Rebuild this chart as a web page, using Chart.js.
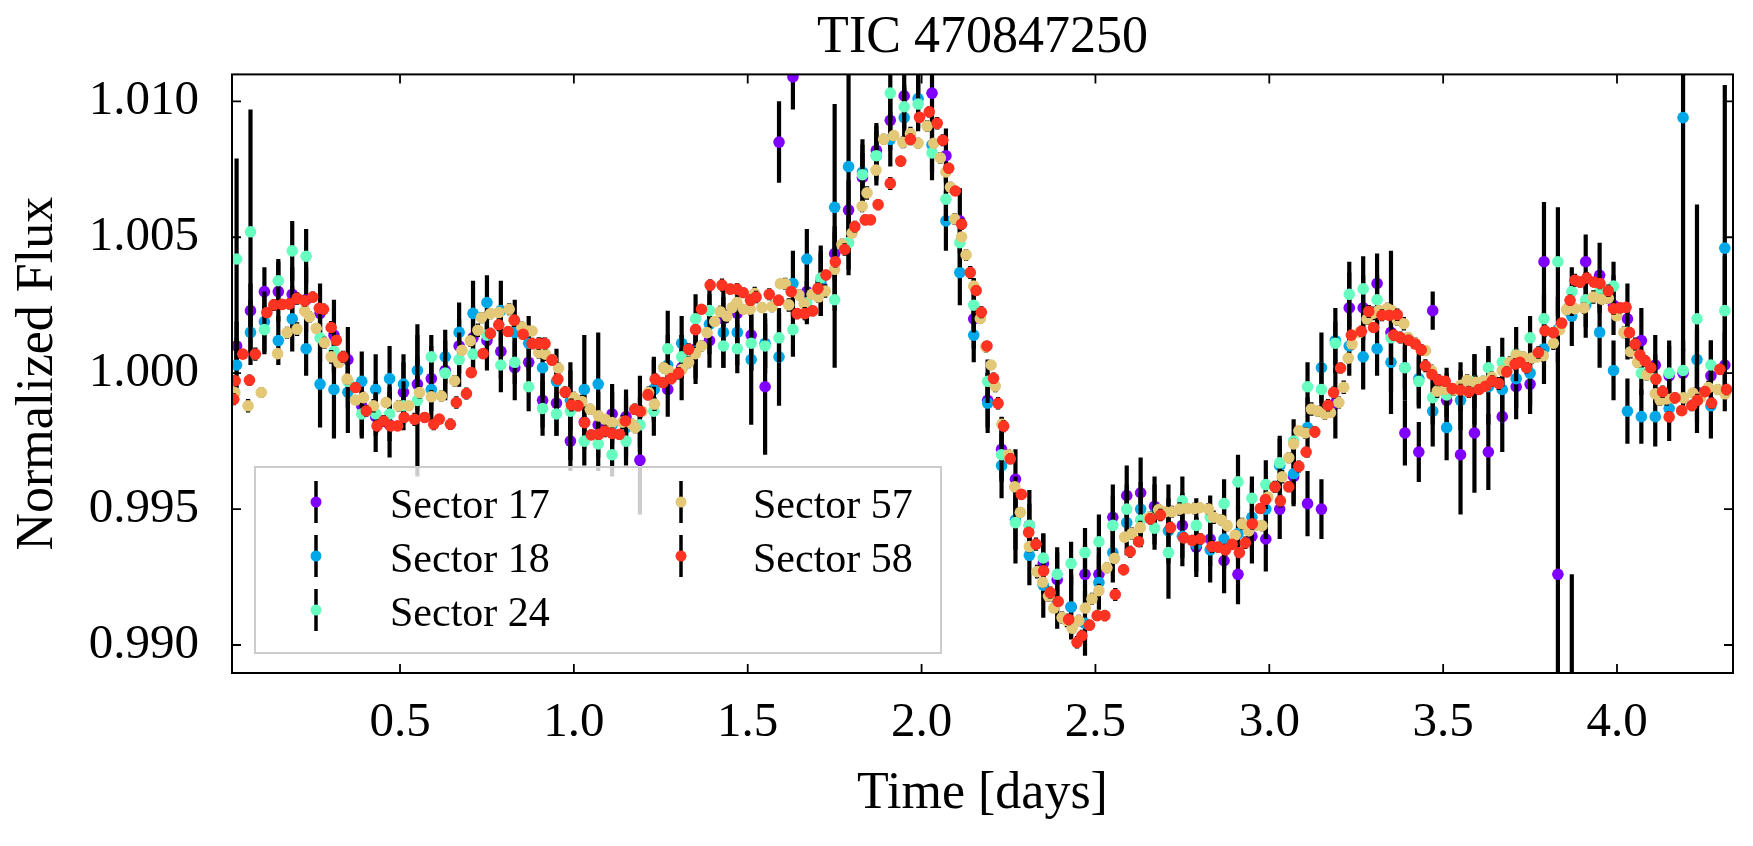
<!DOCTYPE html>
<html>
<head>
<meta charset="utf-8">
<script src="https://cdn.jsdelivr.net/npm/chart.js@4.4.0/dist/chart.umd.min.js"></script>
<style>
  html, body { margin: 0; padding: 0; background: #fff; }
  #wrap { width: 1753px; height: 846px; }
</style>
</head>
<body>
<div id="wrap"><canvas id="lc" width="1753" height="846"></canvas></div>
<script>
// phase-folded time bins [days] shared by sectors 17, 18, 24
const phaseDays = [
  0.03, 0.07, 0.11, 0.15, 0.19, 0.23, 0.27, 0.31, 0.35, 0.39, 0.43, 0.47,
  0.51, 0.55, 0.59, 0.63, 0.67, 0.71, 0.75, 0.79, 0.83, 0.87, 0.91, 0.95,
  0.99, 1.03, 1.07, 1.11, 1.15, 1.19, 1.23, 1.27, 1.31, 1.35, 1.39, 1.43,
  1.47, 1.51, 1.55, 1.59, 1.63, 1.67, 1.71, 1.75, 1.79, 1.83, 1.87, 1.91,
  1.95, 1.99, 2.03, 2.07, 2.11, 2.15, 2.19, 2.23, 2.27, 2.31, 2.35, 2.39,
  2.43, 2.47, 2.51, 2.55, 2.59, 2.63, 2.67, 2.71, 2.75, 2.79, 2.83, 2.87,
  2.91, 2.95, 2.99, 3.03, 3.07, 3.11, 3.15, 3.19, 3.23, 3.27, 3.31, 3.35,
  3.39, 3.43, 3.47, 3.51, 3.55, 3.59, 3.63, 3.67, 3.71, 3.75, 3.79, 3.83,
  3.87, 3.91, 3.95, 3.99, 4.03, 4.07, 4.11, 4.15, 4.19, 4.23, 4.27, 4.31
];

const sectorNames = ['Sector 17', 'Sector 18', 'Sector 24', 'Sector 57', 'Sector 58'];
const sectorColors = ['#8000ff', '#00a8e8', '#66ffc0', '#e3c878', '#ff3322'];

const flux17 = [
  1.0010, 1.0023, 1.0030, 1.0030, 1.0029, 1.0027, 1.0022, 1.0014, 1.0005, 0.9988, 0.9984, 0.9981,
  0.9993, 0.9996, 0.9998, 1.0001, 1.0010, 1.0013, 1.0012, 1.0008, 1.0002, 1.0004, 0.9990, 0.9989,
  0.9975, 0.9982, 0.9981, 0.9985, 0.9984, 0.9968, 0.9994, 0.9994, 1.0002, 1.0009, 1.0012, 1.0020,
  1.0022, 1.0014, 0.9995, 1.0085, 1.0109, 1.0030, 1.0033, 1.0044, 1.0060, 1.0072, 1.0082, 1.0093,
  1.0102, 1.0114, 1.0103, 1.0080, 1.0056, 1.0020, 0.9990, 0.9972, 0.9961, 0.9944, 0.9930, 0.9924,
  0.9914, 0.9926, 0.9926, 0.9947, 0.9955, 0.9956, 0.9951, 0.9949, 0.9944, 0.9936, 0.9939, 0.9931,
  0.9926, 0.9940, 0.9939, 0.9950, 0.9962, 0.9952, 0.9950, 0.9989, 1.0024, 1.0024, 1.0033, 1.0015,
  0.9978, 0.9971, 1.0023, 0.9990, 0.9970, 0.9978, 0.9971, 0.9984, 0.9995, 0.9996, 1.0041, 0.9926,
  0.9850, 1.0041, 1.0036, 1.0025, 1.0020, 1.0012, 1.0003, 0.9999, 1.0000, 0.9993, 0.9999, 1.0003
];
const err17 = [
  0.0009, 0.0010, 0.0009, 0.0011, 0.0010, 0.0012, 0.0011, 0.0013, 0.0012, 0.0011, 0.0013, 0.0012,
  0.0011, 0.0010, 0.0012, 0.0011, 0.0010, 0.0012, 0.0011, 0.0010, 0.0012, 0.0011, 0.0010, 0.0012,
  0.0011, 0.0010, 0.0012, 0.0011, 0.0010, 0.0020, 0.0011, 0.0010, 0.0012, 0.0011, 0.0010, 0.0012,
  0.0011, 0.0013, 0.0025, 0.0015, 0.0012, 0.0011, 0.0012, 0.0010, 0.0011, 0.0012, 0.0010, 0.0011,
  0.0010, 0.0012, 0.0011, 0.0010, 0.0012, 0.0011, 0.0010, 0.0012, 0.0011, 0.0013, 0.0011, 0.0010,
  0.0012, 0.0011, 0.0010, 0.0012, 0.0011, 0.0013, 0.0011, 0.0010, 0.0012, 0.0011, 0.0010, 0.0012,
  0.0011, 0.0010, 0.0012, 0.0011, 0.0010, 0.0012, 0.0011, 0.0013, 0.0013, 0.0012, 0.0011, 0.0030,
  0.0012, 0.0011, 0.0007, 0.0012, 0.0022, 0.0022, 0.0014, 0.0013, 0.0012, 0.0011, 0.0022, 0.0082,
  0.0076, 0.0010, 0.0012, 0.0011, 0.0013, 0.0012, 0.0011, 0.0013, 0.0012, 0.0011, 0.0013, 0.0012
];

const flux18 = [
  1.0003, 1.0015, 1.0019, 1.0012, 1.0020, 1.0009, 0.9996, 0.9994, 0.9993, 0.9997, 0.9994, 0.9998,
  0.9996, 1.0001, 0.9994, 1.0006, 1.0015, 1.0022, 1.0026, 1.0023, 1.0015, 1.0011, 1.0002, 0.9997,
  0.9990, 0.9994, 0.9996, 0.9981, 0.9980, 0.9986, 0.9994, 1.0003, 1.0011, 1.0008, 1.0018, 1.0015,
  1.0015, 1.0005, 1.0011, 1.0006, 1.0033, 1.0042, 1.0034, 1.0061, 1.0076, 1.0074, 1.0080, 1.0086,
  1.0094, 1.0101, 1.0084, 1.0056, 1.0037, 1.0014, 0.9989, 0.9966, 0.9946, 0.9933, 0.9922, 0.9916,
  0.9914, 0.9908, 0.9923, 0.9934, 0.9945, 0.9950, 0.9948, 0.9942, 0.9940, 0.9937, 0.9935, 0.9939,
  0.9941, 0.9947, 0.9950, 0.9966, 0.9963, 0.9980, 1.0002, 1.0012, 1.0010, 1.0006, 1.0009, 1.0004,
  1.0002, 0.9998, 0.9986, 0.9980, 0.9990, 0.9994, 0.9995, 0.9994, 0.9998, 1.0000, 1.0009, 1.0016,
  1.0021, 1.0025, 1.0015, 1.0001, 0.9986, 0.9984, 0.9984, 0.9987, 1.0094, 1.0005, 0.9988, 1.0046
];
const err18 = [
  0.0010, 0.0012, 0.0011, 0.0009, 0.0012, 0.0010, 0.0016, 0.0018, 0.0015, 0.0011, 0.0013, 0.0012,
  0.0011, 0.0013, 0.0012, 0.0010, 0.0011, 0.0012, 0.0010, 0.0011, 0.0012, 0.0010, 0.0011, 0.0012,
  0.0011, 0.0020, 0.0019, 0.0012, 0.0011, 0.0013, 0.0012, 0.0011, 0.0010, 0.0012, 0.0011, 0.0013,
  0.0012, 0.0024, 0.0011, 0.0018, 0.0012, 0.0011, 0.0013, 0.0038, 0.0040, 0.0012, 0.0011, 0.0010,
  0.0011, 0.0012, 0.0010, 0.0011, 0.0012, 0.0010, 0.0011, 0.0012, 0.0016, 0.0011, 0.0012, 0.0010,
  0.0011, 0.0012, 0.0010, 0.0011, 0.0012, 0.0010, 0.0011, 0.0012, 0.0011, 0.0010, 0.0012, 0.0011,
  0.0010, 0.0012, 0.0011, 0.0010, 0.0012, 0.0011, 0.0013, 0.0012, 0.0011, 0.0012, 0.0010, 0.0011,
  0.0012, 0.0011, 0.0013, 0.0012, 0.0011, 0.0013, 0.0014, 0.0012, 0.0011, 0.0012, 0.0013, 0.0012,
  0.0011, 0.0012, 0.0013, 0.0011, 0.0012, 0.0010, 0.0011, 0.0012, 0.0086, 0.0011, 0.0012, 0.0060
];

const flux24 = [
  1.0042, 1.0052, 1.0016, 1.0034, 1.0045, 1.0043, 1.0013, 1.0008, 0.9997, 0.9985, 0.9985, 0.9985,
  0.9988, 0.9990, 1.0006, 1.0000, 1.0005, 1.0007, 1.0014, 1.0003, 1.0004, 0.9995, 0.9987, 0.9985,
  0.9986, 0.9975, 0.9974, 0.9970, 0.9975, 0.9981, 0.9986, 1.0009, 1.0006, 1.0020, 1.0023, 1.0010,
  1.0009, 1.0011, 1.0010, 1.0013, 1.0016, 1.0026, 1.0035, 1.0027, 1.0048, 1.0073, 1.0080, 1.0103,
  1.0098, 1.0099, 1.0081, 1.0064, 1.0048, 1.0025, 0.9997, 0.9970, 0.9945, 0.9944, 0.9932, 0.9926,
  0.9930, 0.9934, 0.9938, 0.9944, 0.9950, 0.9946, 0.9943, 0.9934, 0.9953, 0.9944, 0.9947, 0.9952,
  0.9960, 0.9954, 0.9959, 0.9967, 0.9975, 0.9995, 0.9994, 1.0011, 1.0029, 1.0031, 1.0027, 1.0013,
  1.0002, 0.9997, 0.9991, 0.9992, 0.9995, 0.9997, 1.0002, 1.0004, 1.0007, 1.0013, 1.0020, 1.0041,
  1.0030, 1.0027, 1.0030, 1.0032, 1.0015, 1.0000, 0.9998, 1.0000, 1.0001, 1.0020, 1.0003, 1.0023
];
const err24 = [
  0.0037, 0.0045, 0.0009, 0.0008, 0.0011, 0.0010, 0.0009, 0.0008, 0.0010, 0.0009, 0.0008, 0.0010,
  0.0009, 0.0028, 0.0008, 0.0009, 0.0010, 0.0008, 0.0009, 0.0010, 0.0008, 0.0009, 0.0010, 0.0008,
  0.0018, 0.0009, 0.0010, 0.0008, 0.0009, 0.0010, 0.0009, 0.0014, 0.0008, 0.0009, 0.0010, 0.0008,
  0.0009, 0.0010, 0.0008, 0.0009, 0.0010, 0.0008, 0.0009, 0.0025, 0.0010, 0.0008, 0.0009, 0.0010,
  0.0008, 0.0009, 0.0010, 0.0008, 0.0009, 0.0010, 0.0008, 0.0009, 0.0010, 0.0008, 0.0009, 0.0010,
  0.0008, 0.0009, 0.0010, 0.0011, 0.0009, 0.0010, 0.0008, 0.0017, 0.0009, 0.0010, 0.0008, 0.0009,
  0.0010, 0.0008, 0.0009, 0.0010, 0.0008, 0.0009, 0.0010, 0.0008, 0.0012, 0.0012, 0.0009, 0.0010,
  0.0008, 0.0009, 0.0010, 0.0008, 0.0009, 0.0010, 0.0008, 0.0009, 0.0010, 0.0008, 0.0009, 0.0020,
  0.0009, 0.0010, 0.0008, 0.0009, 0.0010, 0.0008, 0.0009, 0.0010, 0.0008, 0.0042, 0.0009, 0.0020
];

// sectors 57 and 58 are sampled more densely
const time57 = [
  0.025, 0.063, 0.101, 0.148, 0.175, 0.204, 0.226, 0.240, 0.259, 0.283,
  0.302, 0.324, 0.348, 0.372, 0.395, 0.424, 0.460, 0.496, 0.525, 0.556,
  0.590, 0.619, 0.657, 0.678, 0.702, 0.724, 0.734, 0.760, 0.784, 0.814,
  0.827, 0.850, 0.868, 0.880, 0.899, 0.918, 0.937, 0.956, 0.975, 1.000,
  1.023, 1.047, 1.071, 1.090, 1.110, 1.140, 1.167, 1.176, 1.196, 1.215,
  1.232, 1.258, 1.272, 1.311, 1.330, 1.350, 1.367, 1.383, 1.405, 1.421,
  1.440, 1.455, 1.469, 1.488, 1.507, 1.520, 1.541, 1.570, 1.594, 1.608,
  1.618, 1.647, 1.662, 1.685, 1.703, 1.723, 1.750, 1.771, 1.800, 1.829,
  1.843, 1.869, 1.891, 1.920, 1.946, 1.968, 1.990, 2.016, 2.035, 2.054,
  2.070, 2.083, 2.095, 2.115, 2.128, 2.150, 2.169, 2.185, 2.200, 2.212,
  2.231, 2.250, 2.268, 2.284, 2.310, 2.332, 2.348, 2.365, 2.380, 2.404,
  2.418, 2.433, 2.452, 2.471, 2.490, 2.510, 2.533, 2.555, 2.584, 2.605,
  2.629, 2.655, 2.682, 2.700, 2.720, 2.742, 2.764, 2.784, 2.800, 2.825,
  2.840, 2.862, 2.879, 2.902, 2.922, 2.941, 2.960, 2.979, 2.996, 3.016,
  3.037, 3.056, 3.070, 3.085, 3.104, 3.121, 3.140, 3.160, 3.176, 3.200,
  3.214, 3.227, 3.238, 3.260, 3.281, 3.298, 3.315, 3.339, 3.352, 3.368,
  3.387, 3.399, 3.420, 3.449, 3.466, 3.483, 3.505, 3.530, 3.550, 3.569,
  3.593, 3.615, 3.640, 3.670, 3.692, 3.710, 3.730, 3.755, 3.770, 3.788,
  3.817, 3.835, 3.855, 3.879, 3.905, 3.932, 3.956, 3.975, 3.999, 4.020,
  4.039, 4.059, 4.085, 4.110, 4.124, 4.143, 4.162, 4.191, 4.218, 4.240,
  4.263, 4.290, 4.311
];
const flux57 = [
  0.99929, 0.99880, 0.99929, 1.00072, 1.00149, 1.00162, 1.00229, 1.00207, 1.00165, 1.00112,
  1.00060, 1.00039, 0.99978, 0.99901, 0.99910, 0.99880, 0.99892, 0.99880, 0.99880, 0.99929,
  0.99913, 0.99916, 0.99972, 1.00084, 1.00119, 1.00158, 1.00204, 1.00219, 1.00223, 1.00235,
  1.00195, 1.00170, 1.00155, 1.00155, 1.00076, 1.00070, 1.00050, 1.00018, 0.99932, 0.99910,
  0.99896, 0.99867, 0.99843, 0.99830, 0.99818, 0.99820, 0.99812, 0.99800, 0.99860, 0.99929,
  0.99886, 1.00020, 1.00010, 1.00014, 1.00040, 1.00072, 1.00100, 1.00149, 1.00190, 1.00226,
  1.00210, 1.00241, 1.00260, 1.00235, 1.00235, 1.00293, 1.00241, 1.00245, 1.00329, 1.00329,
  1.00251, 1.00288, 1.00256, 1.00290, 1.00280, 1.00302, 1.00382, 1.00473, 1.00515, 1.00614,
  1.00663, 1.00747, 1.00860, 1.00874, 1.00849, 1.00881, 1.00846, 1.00909, 1.00846, 1.00792,
  1.00740, 1.00684, 1.00567, 1.00501, 1.00435, 1.00320, 1.00201, 1.00097, 1.00030, 0.99952,
  0.99812, 0.99700, 0.99582, 0.99488, 0.99362, 0.99270, 0.99231, 0.99180, 0.99136, 0.99101,
  0.99090, 0.99062, 0.99090, 0.99136, 0.99170, 0.99200, 0.99284, 0.99319, 0.99397, 0.99410,
  0.99432, 0.99470, 0.99498, 0.99490, 0.99490, 0.99500, 0.99502, 0.99502, 0.99505, 0.99500,
  0.99470, 0.99460, 0.99439, 0.99404, 0.99446, 0.99420, 0.99440, 0.99439, 0.99544, 0.99582,
  0.99619, 0.99689, 0.99740, 0.99788, 0.99780, 0.99868, 0.99860, 0.99850, 0.99855, 0.99892,
  0.99948, 1.00055, 1.00107, 1.00150, 1.00199, 1.00220, 1.00230, 1.00238, 1.00230, 1.00196,
  1.00182, 1.00131, 1.00110, 1.00083, 1.00010, 0.99934, 0.99940, 0.99938, 0.99955, 0.99974,
  0.99966, 0.99970, 0.99985, 1.00009, 1.00040, 1.00067, 1.00060, 1.00056, 1.00060, 1.00064,
  1.00110, 1.00160, 1.00234, 1.00237, 1.00240, 1.00280, 1.00272, 1.00276, 1.00211, 1.00150,
  1.00079, 1.00040, 0.99994, 0.99924, 0.99901, 0.99905, 0.99908, 0.99909, 0.99927, 0.99910,
  0.99947, 0.99940, 0.99924
];
const err57 = [
  0.00020, 0.00025, 0.00020, 0.00018, 0.00022, 0.00025, 0.00020, 0.00021, 0.00018, 0.00022,
  0.00025, 0.00020, 0.00021, 0.00018, 0.00022, 0.00025, 0.00020, 0.00021, 0.00018, 0.00022,
  0.00025, 0.00020, 0.00021, 0.00018, 0.00022, 0.00025, 0.00020, 0.00021, 0.00018, 0.00022,
  0.00025, 0.00020, 0.00021, 0.00018, 0.00022, 0.00025, 0.00020, 0.00021, 0.00018, 0.00022,
  0.00025, 0.00020, 0.00021, 0.00018, 0.00022, 0.00025, 0.00020, 0.00021, 0.00018, 0.00022,
  0.00025, 0.00020, 0.00021, 0.00018, 0.00022, 0.00025, 0.00020, 0.00021, 0.00018, 0.00022,
  0.00025, 0.00020, 0.00021, 0.00018, 0.00022, 0.00025, 0.00020, 0.00021, 0.00018, 0.00022,
  0.00025, 0.00020, 0.00021, 0.00018, 0.00022, 0.00025, 0.00020, 0.00021, 0.00018, 0.00022,
  0.00025, 0.00020, 0.00021, 0.00018, 0.00022, 0.00025, 0.00020, 0.00021, 0.00018, 0.00022,
  0.00025, 0.00020, 0.00021, 0.00018, 0.00022, 0.00025, 0.00020, 0.00021, 0.00018, 0.00022,
  0.00025, 0.00020, 0.00021, 0.00018, 0.00022, 0.00025, 0.00020, 0.00021, 0.00018, 0.00022,
  0.00025, 0.00020, 0.00021, 0.00018, 0.00022, 0.00025, 0.00020, 0.00021, 0.00018, 0.00022,
  0.00025, 0.00020, 0.00021, 0.00018, 0.00022, 0.00025, 0.00020, 0.00021, 0.00018, 0.00022,
  0.00025, 0.00020, 0.00021, 0.00018, 0.00022, 0.00025, 0.00020, 0.00021, 0.00018, 0.00022,
  0.00025, 0.00020, 0.00021, 0.00018, 0.00022, 0.00025, 0.00020, 0.00021, 0.00018, 0.00022,
  0.00025, 0.00020, 0.00021, 0.00018, 0.00022, 0.00025, 0.00020, 0.00021, 0.00018, 0.00022,
  0.00025, 0.00020, 0.00021, 0.00018, 0.00022, 0.00025, 0.00020, 0.00021, 0.00018, 0.00022,
  0.00025, 0.00020, 0.00021, 0.00018, 0.00022, 0.00025, 0.00020, 0.00021, 0.00018, 0.00022,
  0.00025, 0.00020, 0.00021, 0.00018, 0.00022, 0.00025, 0.00020, 0.00021, 0.00018, 0.00022,
  0.00025, 0.00020, 0.00021, 0.00018, 0.00022, 0.00025, 0.00020, 0.00021, 0.00018, 0.00022,
  0.00025, 0.00020, 0.00021
];

const time58 = [
  0.022, 0.026, 0.048, 0.067, 0.084, 0.117, 0.137, 0.161, 0.182, 0.204,
  0.226, 0.249, 0.268, 0.280, 0.302, 0.317, 0.336, 0.372, 0.403, 0.434,
  0.453, 0.473, 0.493, 0.512, 0.542, 0.571, 0.597, 0.613, 0.645, 0.662,
  0.691, 0.705, 0.739, 0.760, 0.784, 0.811, 0.829, 0.854, 0.880, 0.899,
  0.917, 0.937, 0.954, 0.975, 0.993, 1.012, 1.031, 1.050, 1.071, 1.089,
  1.110, 1.131, 1.148, 1.175, 1.191, 1.213, 1.234, 1.256, 1.280, 1.301,
  1.330, 1.350, 1.367, 1.392, 1.426, 1.450, 1.469, 1.487, 1.508, 1.524,
  1.562, 1.589, 1.625, 1.642, 1.664, 1.687, 1.702, 1.725, 1.752, 1.779,
  1.808, 1.838, 1.853, 1.875, 1.910, 1.940, 1.968, 1.994, 2.022, 2.045,
  2.061, 2.078, 2.097, 2.115, 2.140, 2.157, 2.172, 2.188, 2.207, 2.220,
  2.236, 2.255, 2.287, 2.308, 2.329, 2.351, 2.370, 2.393, 2.423, 2.447,
  2.461, 2.483, 2.505, 2.527, 2.557, 2.581, 2.600, 2.624, 2.658, 2.687,
  2.716, 2.754, 2.778, 2.802, 2.835, 2.853, 2.874, 2.893, 2.914, 2.931,
  2.951, 2.974, 2.989, 3.016, 3.032, 3.056, 3.085, 3.106, 3.131, 3.169,
  3.185, 3.205, 3.236, 3.265, 3.286, 3.300, 3.324, 3.345, 3.358, 3.368,
  3.377, 3.401, 3.420, 3.437, 3.449, 3.468, 3.487, 3.506, 3.526, 3.550,
  3.574, 3.603, 3.622, 3.641, 3.660, 3.683, 3.707, 3.721, 3.740, 3.774,
  3.793, 3.817, 3.841, 3.865, 3.879, 3.894, 3.913, 3.934, 3.951, 3.975,
  3.990, 4.009, 4.026, 4.036, 4.052, 4.066, 4.081, 4.097, 4.112, 4.131,
  4.150, 4.167, 4.186, 4.215, 4.231, 4.253, 4.272, 4.296, 4.315
];
const flux58 = [
  0.99904, 0.99972, 1.00070, 0.99974, 1.00070, 1.00223, 1.00251, 1.00253, 1.00255, 1.00275,
  1.00266, 1.00280, 1.00239, 1.00235, 1.00168, 1.00121, 1.00060, 0.99947, 0.99861, 0.99806,
  0.99824, 0.99806, 0.99806, 0.99837, 0.99830, 0.99837, 0.99812, 0.99831, 0.99812, 0.99892,
  0.99925, 1.00002, 1.00072, 1.00146, 1.00178, 1.00153, 1.00195, 1.00143, 1.00109, 1.00109,
  1.00109, 1.00048, 0.99978, 0.99930, 0.99883, 0.99880, 0.99818, 0.99773, 0.99775, 0.99787,
  0.99778, 0.99775, 0.99824, 0.99867, 0.99859, 0.99920, 0.99978, 0.99965, 0.99980, 1.00000,
  1.00088, 1.00160, 1.00235, 1.00324, 1.00324, 1.00309, 1.00309, 1.00296, 1.00268, 1.00280,
  1.00290, 1.00268, 1.00300, 1.00219, 1.00219, 1.00229, 1.00312, 1.00361, 1.00410, 1.00455,
  1.00539, 1.00564, 1.00564, 1.00620, 1.00698, 1.00780, 1.00860, 1.00941, 1.00961, 1.00919,
  1.00857, 1.00754, 1.00670, 1.00548, 1.00370, 1.00304, 1.00224, 1.00100, 0.99981, 0.99889,
  0.99805, 0.99685, 0.99554, 0.99414, 0.99371, 0.99273, 0.99193, 0.99160, 0.99094, 0.99010,
  0.99034, 0.99073, 0.99108, 0.99108, 0.99186, 0.99277, 0.99343, 0.99380, 0.99464, 0.99478,
  0.99432, 0.99394, 0.99385, 0.99390, 0.99362, 0.99360, 0.99350, 0.99370, 0.99340, 0.99376,
  0.99446, 0.99502, 0.99535, 0.99582, 0.99530, 0.99582, 0.99657, 0.99710, 0.99784, 0.99882,
  0.99929, 1.00019, 1.00140, 1.00154, 1.00227, 1.00168, 1.00213, 1.00213, 1.00140, 1.00215,
  1.00131, 1.00121, 1.00107, 1.00086, 1.00027, 0.99995, 0.99974, 0.99970, 0.99943, 0.99938,
  0.99931, 0.99940, 0.99952, 0.99971, 0.99962, 1.00005, 1.00033, 1.00040, 1.00020, 1.00076,
  1.00156, 1.00149, 1.00184, 1.00268, 1.00342, 1.00335, 1.00350, 1.00335, 1.00330, 1.00303,
  1.00237, 1.00240, 1.00242, 1.00149, 1.00107, 1.00067, 1.00045, 1.00020, 0.99978, 0.99932,
  0.99839, 0.99909, 0.99862, 0.99881, 0.99900, 0.99932, 0.99890, 1.00014, 0.99940
];
const err58 = [
  0.00022, 0.00020, 0.00018, 0.00021, 0.00024, 0.00020, 0.00022, 0.00019, 0.00021, 0.00023,
  0.00022, 0.00020, 0.00018, 0.00021, 0.00024, 0.00020, 0.00022, 0.00019, 0.00021, 0.00023,
  0.00022, 0.00020, 0.00018, 0.00021, 0.00024, 0.00020, 0.00022, 0.00019, 0.00021, 0.00023,
  0.00022, 0.00020, 0.00018, 0.00021, 0.00024, 0.00020, 0.00022, 0.00019, 0.00021, 0.00023,
  0.00022, 0.00020, 0.00018, 0.00021, 0.00024, 0.00020, 0.00022, 0.00019, 0.00021, 0.00023,
  0.00022, 0.00020, 0.00018, 0.00021, 0.00024, 0.00020, 0.00022, 0.00019, 0.00021, 0.00023,
  0.00022, 0.00020, 0.00018, 0.00021, 0.00024, 0.00020, 0.00022, 0.00019, 0.00021, 0.00023,
  0.00022, 0.00020, 0.00018, 0.00021, 0.00024, 0.00020, 0.00022, 0.00019, 0.00021, 0.00023,
  0.00022, 0.00020, 0.00018, 0.00021, 0.00024, 0.00020, 0.00022, 0.00019, 0.00021, 0.00023,
  0.00022, 0.00020, 0.00018, 0.00021, 0.00024, 0.00020, 0.00022, 0.00019, 0.00021, 0.00023,
  0.00022, 0.00020, 0.00018, 0.00021, 0.00024, 0.00020, 0.00022, 0.00019, 0.00021, 0.00023,
  0.00022, 0.00020, 0.00018, 0.00021, 0.00024, 0.00020, 0.00022, 0.00019, 0.00021, 0.00023,
  0.00022, 0.00020, 0.00018, 0.00021, 0.00024, 0.00020, 0.00022, 0.00019, 0.00021, 0.00023,
  0.00022, 0.00020, 0.00018, 0.00021, 0.00024, 0.00020, 0.00022, 0.00019, 0.00021, 0.00023,
  0.00022, 0.00020, 0.00018, 0.00021, 0.00024, 0.00020, 0.00022, 0.00019, 0.00021, 0.00023,
  0.00022, 0.00020, 0.00018, 0.00021, 0.00024, 0.00020, 0.00022, 0.00019, 0.00021, 0.00023,
  0.00022, 0.00020, 0.00018, 0.00021, 0.00024, 0.00020, 0.00022, 0.00019, 0.00021, 0.00023,
  0.00022, 0.00020, 0.00018, 0.00021, 0.00024, 0.00020, 0.00022, 0.00019, 0.00021, 0.00023,
  0.00022, 0.00020, 0.00018, 0.00021, 0.00024, 0.00020, 0.00022, 0.00019, 0.00021, 0.00023,
  0.00022, 0.00020, 0.00018, 0.00021, 0.00024, 0.00020, 0.00022, 0.00019, 0.00021
];

const xTickValues = [0.5, 1.0, 1.5, 2.0, 2.5, 3.0, 3.5, 4.0];
const yTickValues = [0.990, 0.995, 1.000, 1.005, 1.010];

const allTimes = [phaseDays, phaseDays, phaseDays, time57, time58];
const allFlux = [flux17, flux18, flux24, flux57, flux58];
const allErr = [err17, err18, err24, err57, err58];

const serif = "'Liberation Serif', 'Times New Roman', serif";
Chart.defaults.font.family = serif;
Chart.defaults.color = '#000';

// black vertical error bars, drawn under each sector's dots
const errorBarPlugin = {
  id: 'errorBars',
  beforeDatasetDraw(chart, args) {
    const ds = chart.data.datasets[args.index];
    const ys = chart.scales.y;
    const a = chart.chartArea;
    const ctx = chart.ctx;
    ctx.save();
    ctx.beginPath();
    ctx.rect(a.left, a.top, a.right - a.left, a.bottom - a.top);
    ctx.clip();
    ctx.strokeStyle = '#000';
    ctx.lineWidth = 4.2;
    args.meta.data.forEach((pt, j) => {
      const v = ds.data[j].y, e = ds.errors[j];
      ctx.beginPath();
      ctx.moveTo(pt.x, ys.getPixelForValue(v + e));
      ctx.lineTo(pt.x, ys.getPixelForValue(v - e));
      ctx.stroke();
    });
    ctx.restore();
  }
};

// frame with inward ticks on all four sides
const framePlugin = {
  id: 'frame',
  afterDatasetsDraw(chart) {
    const {ctx, chartArea: a, scales: {x, y}} = chart;
    ctx.save();
    ctx.strokeStyle = '#000';
    ctx.lineWidth = 1.8;
    xTickValues.forEach(v => {
      const px = x.getPixelForValue(v);
      ctx.beginPath();
      ctx.moveTo(px, a.bottom); ctx.lineTo(px, a.bottom - 9);
      ctx.moveTo(px, a.top); ctx.lineTo(px, a.top + 9);
      ctx.stroke();
    });
    yTickValues.forEach(v => {
      const py = y.getPixelForValue(v);
      ctx.beginPath();
      ctx.moveTo(a.left, py); ctx.lineTo(a.left + 9, py);
      ctx.moveTo(a.right, py); ctx.lineTo(a.right - 9, py);
      ctx.stroke();
    });
    ctx.lineWidth = 2;
    ctx.strokeRect(a.left, a.top, a.right - a.left, a.bottom - a.top);
    ctx.restore();
  }
};

// matplotlib-like legend box, two columns
const legendPlugin = {
  id: 'mplLegend',
  afterDraw(chart) {
    const ctx = chart.ctx;
    ctx.save();
    ctx.fillStyle = 'rgba(255,255,255,0.8)';
    ctx.fillRect(255, 467, 686, 186);
    ctx.strokeStyle = '#cccccc';
    ctx.lineWidth = 2;
    ctx.strokeRect(255, 467, 686, 186);
    const rows = [502, 556, 610];
    const cols = [{mark: 316, text: 390}, {mark: 681, text: 753}];
    sectorNames.forEach((name, i) => {
      const c = cols[Math.floor(i / 3)];
      const r = rows[i % 3];
      ctx.strokeStyle = '#000';
      ctx.lineWidth = 3.5;
      ctx.beginPath();
      ctx.moveTo(c.mark, r - 21);
      ctx.lineTo(c.mark, r + 21);
      ctx.stroke();
      ctx.fillStyle = sectorColors[i];
      ctx.beginPath();
      ctx.arc(c.mark, r, 5.5, 0, Math.PI * 2);
      ctx.fill();
      ctx.fillStyle = '#000';
      ctx.font = '42px ' + serif;
      ctx.textBaseline = 'alphabetic';
      ctx.textAlign = 'left';
      ctx.fillText(name, c.text, r + 16);
    });
    ctx.restore();
  }
};

const datasets = sectorNames.map((name, i) => ({
  label: name,
  data: allTimes[i].map((t, j) => ({x: t, y: allFlux[i][j]})),
  errors: allErr[i],
  backgroundColor: sectorColors[i],
  pointBackgroundColor: sectorColors[i],
  pointBorderWidth: 0,
  pointRadius: 5.8,
  pointHoverRadius: 5.8,
  showLine: false,
  clip: 0,
  order: sectorNames.length - i
}));

new Chart(document.getElementById('lc').getContext('2d'), {
  type: 'scatter',
  data: { datasets: datasets },
  plugins: [errorBarPlugin, framePlugin, legendPlugin],
  options: {
    responsive: false,
    animation: false,
    devicePixelRatio: 1,
    layout: { padding: { top: 0, right: 20, bottom: 0, left: 0 } },
    plugins: {
      legend: { display: false },
      tooltip: { enabled: false },
      title: {
        display: true,
        text: 'TIC 470847250',
        fullSize: false,
        color: '#000',
        font: { size: 52, weight: 'normal', family: serif },
        padding: { top: 7, bottom: 5 }
      }
    },
    scales: {
      x: {
        type: 'linear',
        min: 0.0168,
        max: 4.3336,
        grid: { display: false },
        border: { display: false },
        afterBuildTicks: s => { s.ticks = xTickValues.map(v => ({value: v})); },
        afterFit: s => { s.height = 173; },
        ticks: {
          autoSkip: false,
          maxRotation: 0,
          padding: 13,
          color: '#000',
          font: { size: 49, family: serif },
          callback: v => v.toFixed(1)
        },
        title: {
          display: true,
          text: 'Time [days]',
          color: '#000',
          font: { size: 52, family: serif },
          padding: { top: 0, bottom: 20 }
        }
      },
      y: {
        type: 'linear',
        min: 0.98897,
        max: 1.01099,
        grid: { display: false },
        border: { display: false },
        afterBuildTicks: s => { s.ticks = yTickValues.map(v => ({value: v})); },
        afterFit: s => { s.width = 232; },
        ticks: {
          autoSkip: false,
          padding: 25,
          color: '#000',
          font: { size: 49, family: serif },
          callback: v => v.toFixed(3)
        },
        title: {
          display: true,
          text: 'Normalized Flux',
          color: '#000',
          font: { size: 52, family: serif },
          padding: { top: 7, bottom: 0 }
        }
      }
    }
  }
});
</script>
</body>
</html>
